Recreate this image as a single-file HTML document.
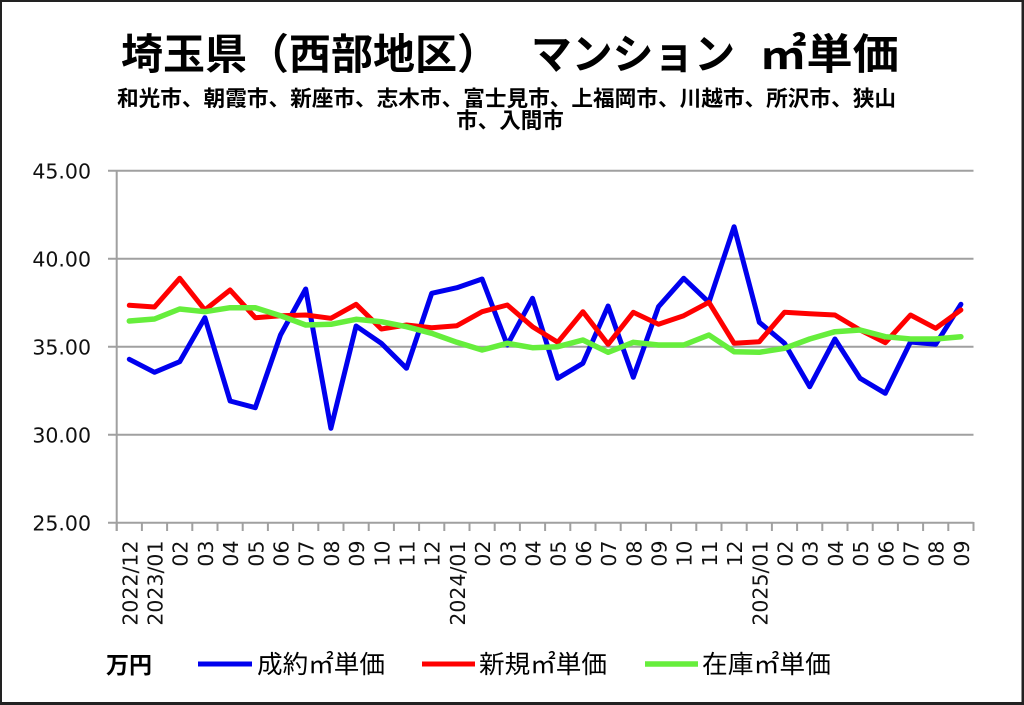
<!DOCTYPE html>
<html><head><meta charset="utf-8"><style>
html,body{margin:0;padding:0;background:#fff;}
svg{display:block;}
.cjk{font-family:"Liberation Sans","Noto Sans CJK JP",sans-serif;}
.num{font-family:"DejaVu Sans","Liberation Sans",sans-serif;font-size:20.5px;fill:#111;}
</style></head><body>
<svg width="1024" height="705" viewBox="0 0 1024 705" xmlns="http://www.w3.org/2000/svg">
<rect x="0" y="0" width="1024" height="705" fill="#fff"/>
<!-- border -->
<rect x="0" y="0" width="2" height="705" fill="#222"/>
<rect x="0" y="0" width="1024" height="2" fill="#222"/>
<rect x="1021.5" y="0" width="2.5" height="705" fill="#222"/>
<rect x="0" y="702" width="1024" height="3" fill="#222"/>

<!-- title -->
<g class="cjk" font-weight="bold" fill="#000">
<text x="121" y="69" font-size="42" textLength="378" lengthAdjust="spacingAndGlyphs">埼玉県（西部地区）</text>
<text x="531" y="69" font-size="42" textLength="204" lengthAdjust="spacingAndGlyphs">マンション</text>
<text x="760" y="69" font-size="42" textLength="139" lengthAdjust="spacingAndGlyphs">㎡単価</text>
<text x="117" y="106" font-size="21.5" textLength="779" lengthAdjust="spacingAndGlyphs">和光市、朝霞市、新座市、志木市、富士見市、上福岡市、川越市、所沢市、狭山</text>
<text x="510" y="128" font-size="21.5" text-anchor="middle">市、入間市</text>
</g>

<!-- gridlines -->
<g stroke="#a0a0a0" stroke-width="2" fill="none">
<line x1="108" y1="170.7" x2="973.5" y2="170.7"/>
<line x1="108" y1="258.7" x2="973.5" y2="258.7"/>
<line x1="108" y1="346.7" x2="973.5" y2="346.7"/>
<line x1="108" y1="434.7" x2="973.5" y2="434.7"/>
<line x1="108" y1="522.7" x2="973.5" y2="522.7"/>
<line x1="116.7" y1="170" x2="116.7" y2="531"/>
<path id="ticks" d=""/>
</g>
<g stroke="#a0a0a0" stroke-width="2" id="xt"></g>

<!-- y labels -->
<g class="num" text-anchor="end">
<text x="91" y="178.3">45.00</text>
<text x="91" y="266.3">40.00</text>
<text x="91" y="354.3">35.00</text>
<text x="91" y="442.3">30.00</text>
<text x="91" y="530.3">25.00</text>
</g>

<g id="xl" class="num" text-anchor="end"></g>

<g fill="none" stroke-width="5" stroke-linejoin="round" stroke-linecap="round">
<polyline id="pb" stroke="#0000ee" points=""/>
<polyline id="pr" stroke="#ff0000" points=""/>
<polyline id="pg" stroke="#66ee3c" stroke-width="5.5" points=""/>
</g>

<!-- legend -->
<g class="cjk" fill="#000">
<text x="106" y="673" font-size="23" font-weight="bold">万円</text>
<line x1="198" y1="664" x2="252" y2="664" stroke="#0000ee" stroke-width="5"/>
<text x="257" y="673" font-size="25" textLength="128" lengthAdjust="spacingAndGlyphs">成約㎡単価</text>
<line x1="422" y1="664" x2="475" y2="664" stroke="#ff0000" stroke-width="5"/>
<text x="479" y="673" font-size="25" textLength="128" lengthAdjust="spacingAndGlyphs">新規㎡単価</text>
<line x1="645" y1="664" x2="698" y2="664" stroke="#66ee3c" stroke-width="5.5"/>
<text x="702" y="673" font-size="25" textLength="129" lengthAdjust="spacingAndGlyphs">在庫㎡単価</text>
</g>
</svg>
<script>
(function(){
var NS="http://www.w3.org/2000/svg";
var B=[359.3,372.3,361.7,317.7,401,407.7,335,289,428.3,326,343.3,368.3,293.3,287.7,279,345,298.3,378.3,363.3,306,377.3,306.7,278.3,302.3,226.7,322.3,343.3,386.7,339,378.3,393.3,342,344.3,304.3];
var R=[305.3,307,278.3,310,290,317.7,315.7,315,318.3,304.3,329,325,327.7,325.7,311.7,305,326.7,342.3,311.7,344.3,312.3,324.3,315.7,302.3,343.3,341.7,312.3,313.7,315,330,342.7,315,328.3,310];
var G=[321,319,309,311.7,307.7,307.7,315.7,325,324.3,319.3,321.7,326.7,333.3,342.3,350,343.3,347.7,346.7,340,352.3,342.3,345,345,335,351.7,352.3,348.3,339,331.7,330,336.7,339,339,336.7];
function pts(a){var s=[];for(var i=0;i<a.length;i++){s.push((129.3+25.2*i).toFixed(1)+","+a[i]);}return s.join(" ");}
document.getElementById("pb").setAttribute("points",pts(B));
document.getElementById("pr").setAttribute("points",pts(R));
document.getElementById("pg").setAttribute("points",pts(G));
var xt=document.getElementById("xt");
for(var k=0;k<=34;k++){var x=116.7+25.2*k;var l=document.createElementNS(NS,"line");l.setAttribute("x1",x);l.setAttribute("x2",x);l.setAttribute("y1",522);l.setAttribute("y2",531);xt.appendChild(l);}
var labs=["2022/12","2023/01"];
for(var m=2;m<=12;m++)labs.push((m<10?"0":"")+m);
labs.push("2024/01");
for(var m=2;m<=12;m++)labs.push((m<10?"0":"")+m);
labs.push("2025/01");
for(var m=2;m<=9;m++)labs.push("0"+m);
var xl=document.getElementById("xl");
for(var i=0;i<labs.length;i++){var cx=129.3+25.2*i+8;var t=document.createElementNS(NS,"text");t.setAttribute("x",cx);t.setAttribute("y",540.5);t.setAttribute("transform","rotate(-90 "+cx+" 540.5)");t.textContent=labs[i];xl.appendChild(t);}
})();
</script>
</body></html>
